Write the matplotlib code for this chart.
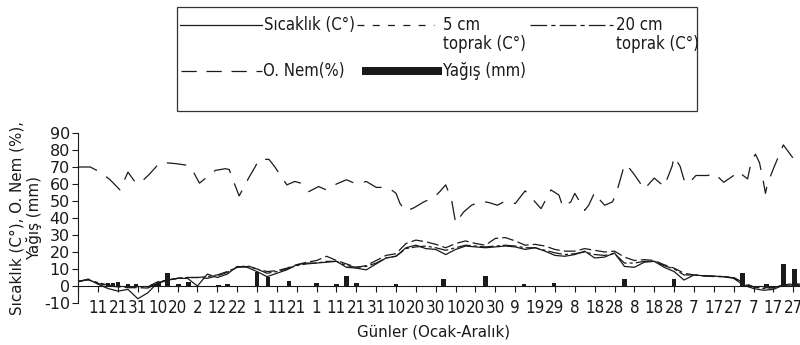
import matplotlib
matplotlib.use('Agg')
import matplotlib.pyplot as plt
from matplotlib import font_manager
from matplotlib.font_manager import FontProperties
from matplotlib.patches import Rectangle

plt.rcParams['axes.unicode_minus'] = False
plt.rcParams['lines.scale_dashes'] = False
plt.rcParams['font.family'] = ['DejaVu Sans']

# ---------------- data ----------------
temp_days = [1, 6, 11, 16, 21, 26, 31, 36, 41, 46,
             51, 56, 61, 66, 71, 76, 81, 86, 91, 96,
             101, 106, 111, 116, 121, 126, 131, 136, 141, 146,
             151, 156, 161, 166, 171, 176, 181, 186, 191, 196,
             201, 206, 211, 216, 221, 226, 231, 236, 241, 246,
             251, 256, 261, 266, 271, 276, 281, 286, 291, 296,
             301, 306, 311, 316, 321, 326, 331, 336, 341, 346,
             351, 356, 361, 365]
air_temp = [2.5, 4.0, 1.0, -1.5, -3.0, -2.0, -7.5, -4.0, 2.0, 3.5,
            4.5, 4.5, 0.0, 7.0, 5.0, 7.0, 11.5, 11.0, 8.5, 5.5,
            7.5, 9.5, 12.5, 13.5, 13.5, 14.0, 14.5, 11.0, 10.5, 9.5,
            13.0, 16.5, 17.5, 22.5, 24.0, 22.0, 21.5, 18.5, 21.5, 23.5,
            23.0, 22.5, 23.0, 23.5, 23.0, 21.5, 22.5, 20.5, 18.0, 17.5,
            18.5, 20.5, 16.5, 17.0, 19.5, 11.5, 11.0, 14.0, 14.5, 11.0,
            8.5, 3.5, 6.5, 6.0, 5.8, 5.5, 4.5, 0.5, -1.5, -2.5,
            -2.0, 0.5, 0.5, 0.0]
soil_5cm = [2.5, 4.0, 1.5, 0.0, -0.5, -1.0, -1.0, -1.2, 1.5, 3.5,
            4.5, 5.0, 5.0, 4.5, 6.0, 8.0, 11.0, 12.0, 10.0, 8.5,
            9.0, 10.5, 12.5, 14.0, 15.0, 17.5, 15.0, 13.0, 11.0, 12.0,
            15.0, 18.0, 19.0, 25.0, 27.0, 26.0, 24.5, 22.5, 25.0, 26.5,
            25.0, 24.0, 28.0, 28.5, 26.5, 24.0, 24.5, 23.5, 21.5, 20.5,
            20.5, 22.0, 21.0, 20.0, 20.5, 17.0, 15.0, 15.5, 15.0, 12.5,
            10.5, 7.5, 6.5, 6.0, 5.5, 5.5, 5.0, 2.0, -0.5, -1.0,
            -1.0, 0.5, 1.5, 1.0]
soil_20cm = [3.0, 3.5, 2.0, 0.5, 0.0, -0.5, -0.5, -0.5, 2.5, 3.5,
             4.5, 5.0, 5.0, 5.5, 6.5, 8.5, 11.0, 11.5, 10.0, 7.5,
             8.5, 10.0, 12.0, 13.0, 13.5, 14.5, 14.5, 12.0, 11.0, 11.5,
             13.5, 16.5, 17.5, 22.0, 23.0, 23.5, 22.5, 21.0, 22.5, 24.0,
             23.5, 23.0, 23.5, 24.0, 23.5, 22.5, 22.5, 21.0, 19.5, 18.5,
             19.0, 20.0, 18.5, 18.0, 19.0, 13.5, 13.5, 14.5, 14.5, 12.0,
             10.0, 6.5, 6.5, 6.0, 5.8, 5.5, 4.8, 1.0, -0.5, -1.5,
             -1.0, 0.5, 1.0, 0.5]

hum_days = [1, 7, 12, 17, 22, 26, 30, 33, 37, 42,
            45, 50, 56, 59, 62, 70, 75, 77, 80, 82,
            87, 90, 92, 97, 100, 106, 110, 113, 117, 122,
            126, 131, 136, 141, 146, 151, 157, 161, 163, 166,
            170, 175, 180, 183, 186, 189, 191, 195, 199, 204,
            208, 212, 216, 221, 226, 234, 239, 243, 245, 249,
            251, 256, 258, 261, 263, 266, 270, 272, 274, 276,
            278, 281, 286, 291, 296, 300, 301, 304, 306, 308,
            312, 318, 321, 326, 331, 333, 338, 340, 342, 344,
            346, 347, 348, 351, 356, 362, 365]
humidity = [70, 70, 67, 62.5, 56.5, 67, 60.5, 61.5, 66, 72.5,
            72.5, 72, 71, 67, 60.5, 68, 69, 68.5, 59, 53,
            64, 70, 74.5, 74.5, 70, 59.5, 61.5, 60.5, 55.5, 58.5,
            56.5, 60, 62.5, 60, 61.5, 58, 58, 54.5, 48.5, 44,
            46, 49.5, 52, 55.5, 59.5, 50.5, 37, 43.5, 47.5, 50,
            49, 47.5, 50, 48.5, 56, 45.5, 56.5, 53.5, 46.5, 49.5,
            54.5, 44.5, 47.5, 55, 51.5, 47.5, 49.5, 55, 63, 71.5,
            70, 65.5, 57, 63.5, 58.5, 70.5, 76, 70.5, 62.5, 60,
            65, 65, 66.5, 61, 65, 67.5, 63, 74, 77.5, 72.5,
            61, 54.5, 60, 69, 83, 73.5, 71]

rain_days = [16, 18.5, 21, 26, 30, 39, 41.5, 46, 51.5, 56.5,
             71.5, 76, 91, 96.5, 107, 121, 131, 136, 141, 161,
             185, 206, 225.5, 240.5, 276, 301, 335.5, 347.5, 356, 361.5]
rain = [1.6, 1.6, 2.2, 1.2, 1.0, 1.2, 2.0, 7.8, 1.0, 2.6,
        0.6, 1.0, 8.4, 5.5, 3.1, 1.8, 1.2, 5.9, 1.8, 1.4,
        4.3, 5.9, 1.4, 2.0, 3.9, 4.3, 7.8, 1.4, 13.1, 9.8]

tick_days = [1, 11, 21, 31, 41, 51, 61, 71, 81, 91, 101, 111, 121, 131,
             141, 151, 161, 171, 181, 191, 201, 211, 221, 231, 241, 251,
             261, 271, 281, 291, 301, 311, 321, 331, 341, 351, 361]
tick_labels = ['', '11', '21', '31', '10', '20', '2', '12', '22', '1', '11',
               '21', '1', '11', '21', '31', '10', '20', '30', '10', '20',
               '30', '9', '19', '29', '8', '18', '28', '8', '18', '28', '7',
               '17', '27', '7', '17', '27']
y_ticks = [-10, 0, 10, 20, 30, 40, 50, 60, 70, 80, 90]

legend_labels = ['Sıcaklık (C°)', '5 cm', 'toprak (C°)', '20 cm', 'toprak (C°)',
                 'O. Nem(%)', 'Yağış (mm)']


# ---------------- narrow font lookup ----------------
def find_narrow():
    fl = font_manager.fontManager.ttflist
    def ok(f):
        return f.style == 'normal' and f.weight in (400, 'normal', 'regular', 'book')
    prefs = [
        lambda f: f.name in ('Liberation Sans Narrow', 'Arial Narrow'),
        lambda f: f.name == 'DejaVu Sans' and 'ondensed' in f.fname,
        lambda f: 'Condensed' in f.name and 'Semi' not in f.name,
        lambda f: f.stretch in ('condensed', 'semi-condensed') or
                  (isinstance(f.stretch, int) and f.stretch < 500),
        lambda f: 'ondensed' in f.fname or 'Narrow' in f.fname,
    ]
    for p in prefs:
        cands = [f for f in fl if p(f) and ok(f)]
        if cands:
            return cands[0].fname, 1.0
    return None, 0.72


NARROW_FILE, NSCALE = find_narrow()


def nprop(size):
    if NARROW_FILE:
        return FontProperties(fname=NARROW_FILE, size=size)
    return FontProperties(family='DejaVu Sans', size=size * NSCALE)


# ---------------- style ----------------
INK = '#1a1a1a'
W, H = 800, 345
fig = plt.figure(figsize=(W / 100, H / 100), dpi=100)

ax = fig.add_axes([78.3 / W, 42 / H, (801.2 - 78.3) / W, 170 / H])
ax.set_xlim(1, 365)
ax.set_ylim(-10, 90)

ax.bar(rain_days, rain, width=2.3, color=INK, zorder=2)
ax.plot(temp_days, air_temp, color=INK, lw=0.9, zorder=3)
ax.plot(temp_days, soil_5cm, color=INK, lw=0.9, dashes=(8.5, 3.0), zorder=3)
ax.plot(temp_days, soil_20cm, color=INK, lw=0.9, dashes=(10, 2.2, 2.2, 2.2), zorder=3)
ax.plot(hum_days, humidity, color=INK, lw=0.9, dashes=(14, 8), zorder=3)

for s in ['top', 'right']:
    ax.spines[s].set_visible(False)
ax.spines['bottom'].set_position(('data', 0))
for s in ['bottom', 'left']:
    ax.spines[s].set_color(INK)
    ax.spines[s].set_linewidth(0.8)

ax.set_xticks(tick_days)
ax.set_xticklabels(tick_labels, fontproperties=nprop(12.2), color=INK)
ax.tick_params(axis='x', direction='out', length=4.5, width=0.8, pad=5, colors=INK)
ax.set_yticks(y_ticks)
ax.set_yticklabels([str(v) for v in y_ticks], fontsize=11.5, color=INK)
ax.tick_params(axis='y', direction='out', length=4.5, width=0.8, pad=1.5, colors=INK)

ax.set_xlabel('Günler (Ocak-Aralık)', fontsize=10.8, color=INK)
ax.xaxis.set_label_coords(0.492, -0.125)
ax.set_ylabel('Sıcaklık (C°), O. Nem (%),\nYağış (mm)', fontsize=10.9, color=INK,
              linespacing=1.15)
ax.yaxis.set_label_coords(-0.05, 0.5)

# ---------------- legend (drawn in pixel coordinates) ----------------
lax = fig.add_axes([0, 0, 1, 1], zorder=5)
lax.set_xlim(0, W)
lax.set_ylim(H, 0)
lax.axis('off')
lax.add_patch(Rectangle((177, 7), 520, 104, fill=False, lw=0.9, ec='#333333'))

tkw = dict(fontproperties=nprop(12.0), color=INK, va='baseline', ha='left')
y1, y2 = 24.5, 70.5
lax.plot([180, 262], [y1, y1], color=INK, lw=0.9)
lax.text(264, 30, legend_labels[0], **tkw)
lax.plot([357, 434], [y1, y1], color=INK, lw=0.9, dashes=(5, 6))
lax.text(443, 30, legend_labels[1], **tkw)
lax.text(443, 49, legend_labels[2], **tkw)
lax.plot([530, 613], [y1, y1], color=INK, lw=0.9, dashes=(12, 3, 3, 3))
lax.text(616, 30, legend_labels[3], **tkw)
lax.text(616, 49, legend_labels[4], **tkw)
lax.plot([181, 262], [y2, y2], color=INK, lw=0.9, dashes=(11, 7))
lax.text(263, 76, legend_labels[5], **tkw)
lax.add_patch(Rectangle((362, 66.5), 80, 8, color=INK, lw=0))
lax.text(443, 76, legend_labels[6], **tkw)

fig.savefig('out.png', dpi=100)
